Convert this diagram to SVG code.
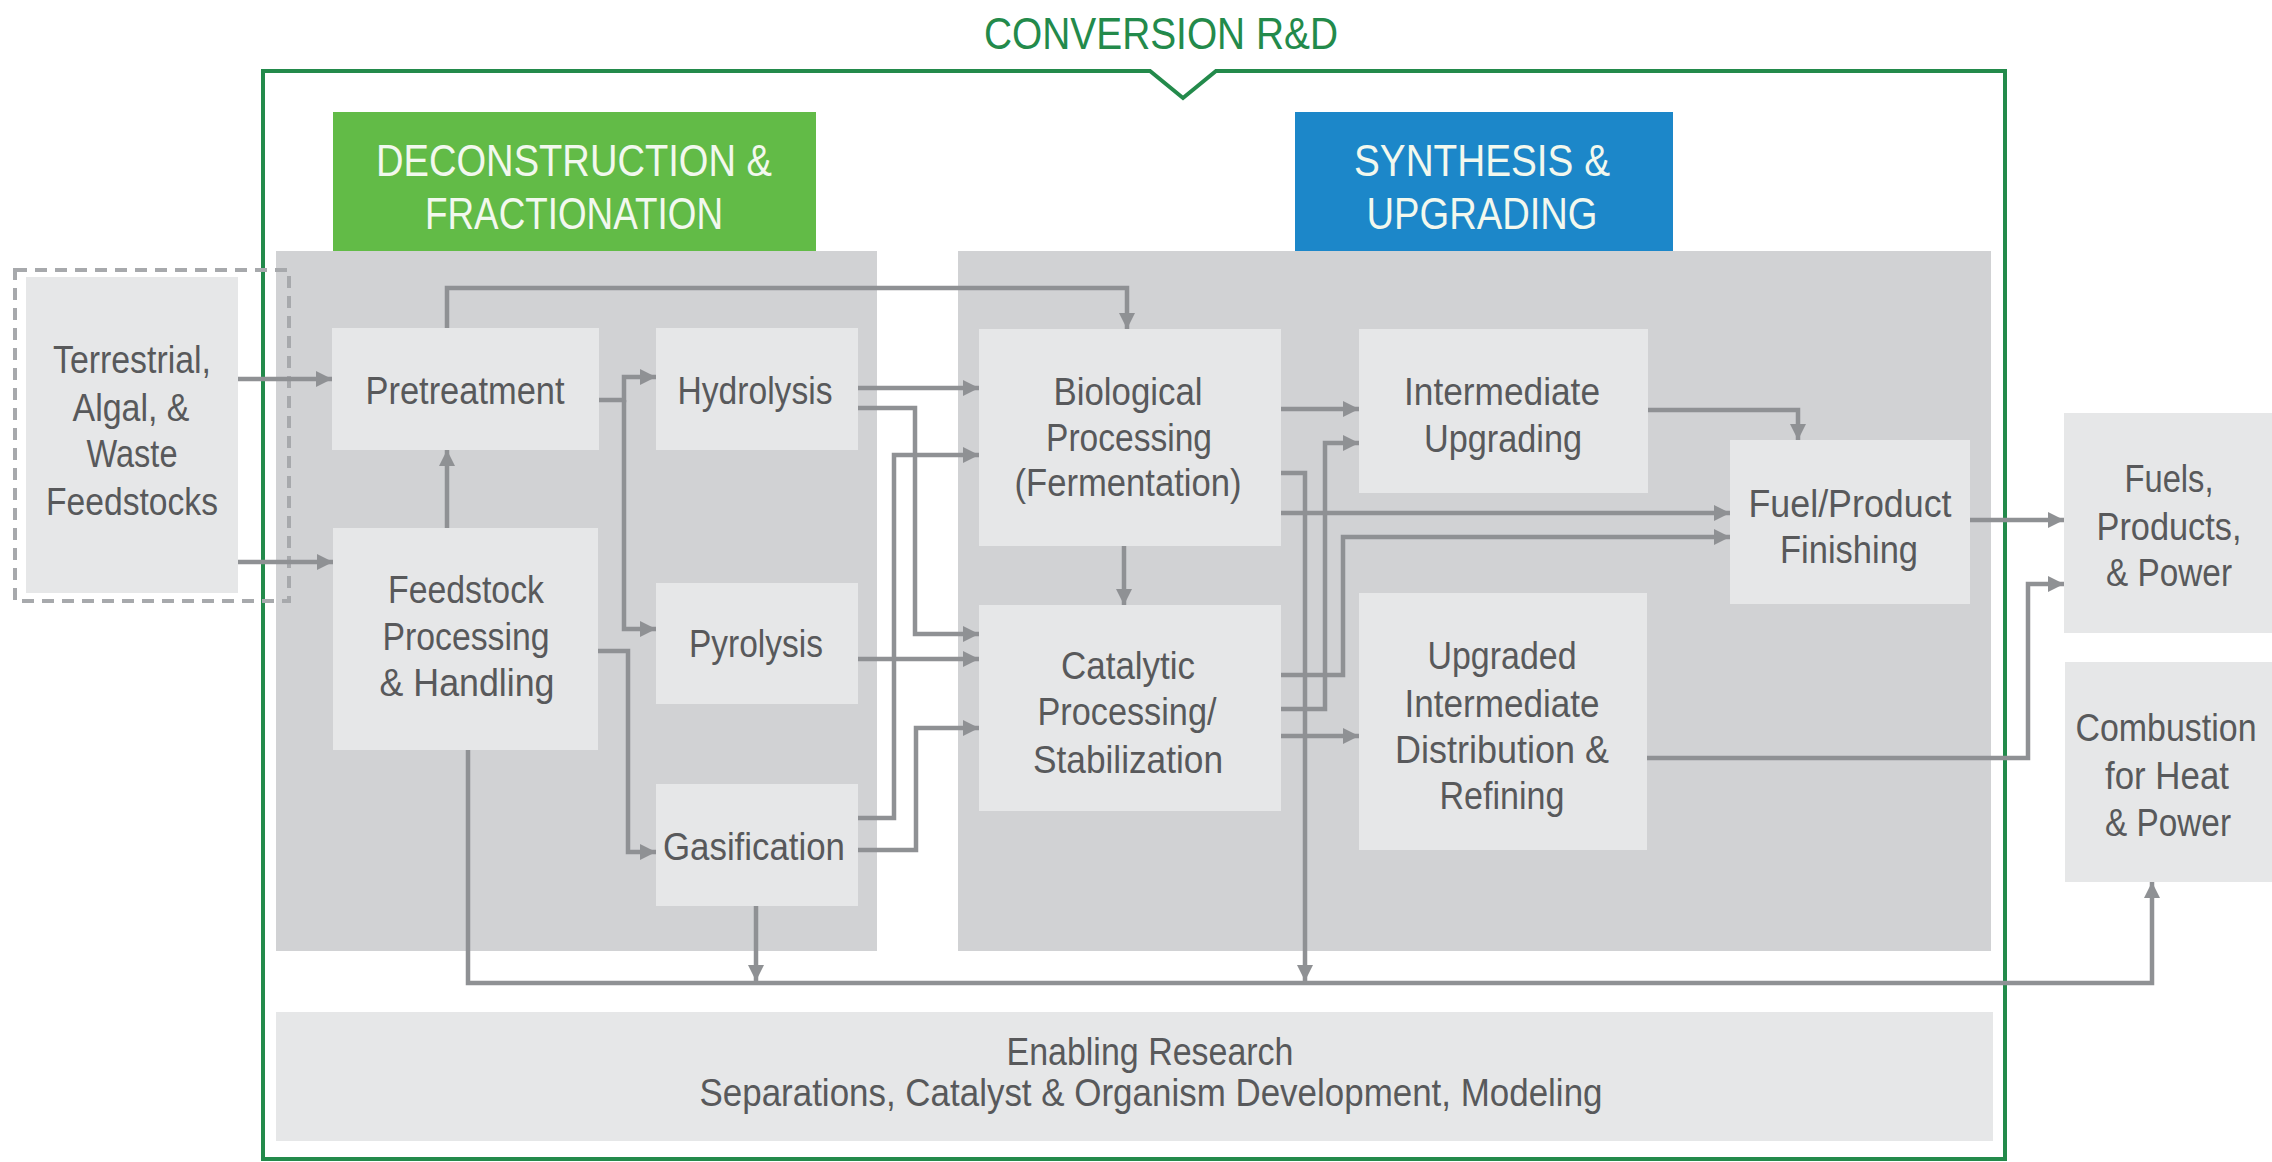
<svg xmlns="http://www.w3.org/2000/svg" width="2272" height="1162" viewBox="0 0 2272 1162">
<style>
.panel{fill:#D1D2D4}
.box{fill:#E6E7E8}
.t{font-family:"Liberation Sans Narrow","Liberation Sans",Arial,sans-serif;font-size:38px;fill:#58595B;text-anchor:middle}
.h{font-family:"Liberation Sans Narrow","Liberation Sans",Arial,sans-serif;font-size:45px;fill:#F2F8EE;text-anchor:middle}
.title{font-family:"Liberation Sans Narrow","Liberation Sans",Arial,sans-serif;font-size:45px;fill:#238A4B;text-anchor:middle}
.c{fill:none;stroke:#8F9194;stroke-width:4.5;stroke-linejoin:miter}
.a{marker-end:url(#arr)}
</style>
<defs>
<marker id="arr" markerUnits="userSpaceOnUse" markerWidth="16" markerHeight="16" refX="16" refY="8" orient="auto">
<path d="M0,0 L16,8 L0,16 z" fill="#8F9194"/>
</marker>
</defs>
<rect x="0" y="0" width="2272" height="1162" fill="#FFFFFF"/>

<g id="frame">
<path d="M263,1159 L263,71 L1150,71 L1183,98 L1216,71 L2005,71 L2005,1159 Z" fill="none" stroke="#238A4B" stroke-width="4"/>
<text class="title" x="1161" y="49" textLength="354" lengthAdjust="spacingAndGlyphs">CONVERSION R&amp;D</text>
</g>

<g id="header-deconstruction">
<rect x="333" y="112" width="483" height="139" fill="#62BB47"/>
<text class="h" x="574" y="176" textLength="396" lengthAdjust="spacingAndGlyphs">DECONSTRUCTION &amp;</text>
<text class="h" x="574" y="229" textLength="298" lengthAdjust="spacingAndGlyphs">FRACTIONATION</text>
</g>
<g id="header-synthesis">
<rect x="1295" y="112" width="378" height="139" fill="#1C87C9"/>
<text class="h" x="1482" y="176" textLength="256" lengthAdjust="spacingAndGlyphs">SYNTHESIS &amp;</text>
<text class="h" x="1482" y="229" textLength="231" lengthAdjust="spacingAndGlyphs">UPGRADING</text>
</g>

<g id="panels">
<rect class="panel" x="276" y="251" width="601" height="700"/>
<rect class="panel" x="958" y="251" width="1033" height="700"/>
</g>

<g id="feedstocks">
<rect class="box" x="26" y="277" width="212" height="316"/>
<text class="t" x="132" y="373" textLength="158" lengthAdjust="spacingAndGlyphs">Terrestrial,</text>
<text class="t" x="131" y="421" textLength="117" lengthAdjust="spacingAndGlyphs">Algal, &amp;</text>
<text class="t" x="132" y="467" textLength="91" lengthAdjust="spacingAndGlyphs">Waste</text>
<text class="t" x="132" y="515" textLength="172" lengthAdjust="spacingAndGlyphs">Feedstocks</text>
<rect x="15" y="270" width="274" height="331" fill="none" stroke="#A7A9AC" stroke-width="4" stroke-dasharray="12 8"/>
</g>

<g id="pretreatment">
<rect class="box" x="332" y="328" width="267" height="122"/>
<text class="t" x="465" y="404" textLength="199" lengthAdjust="spacingAndGlyphs">Pretreatment</text>
</g>
<g id="feedstock-processing">
<rect class="box" x="333" y="528" width="265" height="222"/>
<text class="t" x="466" y="603" textLength="156" lengthAdjust="spacingAndGlyphs">Feedstock</text>
<text class="t" x="466" y="650" textLength="167" lengthAdjust="spacingAndGlyphs">Processing</text>
<text class="t" x="467" y="696" textLength="175" lengthAdjust="spacingAndGlyphs">&amp; Handling</text>
</g>
<g id="hydrolysis">
<rect class="box" x="656" y="328" width="202" height="122"/>
<text class="t" x="755" y="404" textLength="155" lengthAdjust="spacingAndGlyphs">Hydrolysis</text>
</g>
<g id="pyrolysis">
<rect class="box" x="656" y="583" width="202" height="121"/>
<text class="t" x="756" y="657" textLength="134" lengthAdjust="spacingAndGlyphs">Pyrolysis</text>
</g>
<g id="gasification">
<rect class="box" x="656" y="784" width="202" height="122"/>
<text class="t" x="754" y="860" textLength="182" lengthAdjust="spacingAndGlyphs">Gasification</text>
</g>
<g id="biological">
<rect class="box" x="979" y="329" width="302" height="217"/>
<text class="t" x="1128" y="405" textLength="149" lengthAdjust="spacingAndGlyphs">Biological</text>
<text class="t" x="1129" y="451" textLength="166" lengthAdjust="spacingAndGlyphs">Processing</text>
<text class="t" x="1128" y="496" textLength="227" lengthAdjust="spacingAndGlyphs">(Fermentation)</text>
</g>
<g id="catalytic">
<rect class="box" x="979" y="605" width="302" height="206"/>
<text class="t" x="1128" y="679" textLength="134" lengthAdjust="spacingAndGlyphs">Catalytic</text>
<text class="t" x="1127" y="725" textLength="179" lengthAdjust="spacingAndGlyphs">Processing/</text>
<text class="t" x="1128" y="773" textLength="190" lengthAdjust="spacingAndGlyphs">Stabilization</text>
</g>
<g id="intermediate-upgrading">
<rect class="box" x="1359" y="329" width="289" height="164"/>
<text class="t" x="1502" y="405" textLength="196" lengthAdjust="spacingAndGlyphs">Intermediate</text>
<text class="t" x="1503" y="452" textLength="158" lengthAdjust="spacingAndGlyphs">Upgrading</text>
</g>
<g id="upgraded-intermediate">
<rect class="box" x="1359" y="593" width="288" height="257"/>
<text class="t" x="1502" y="669" textLength="149" lengthAdjust="spacingAndGlyphs">Upgraded</text>
<text class="t" x="1502" y="717" textLength="195" lengthAdjust="spacingAndGlyphs">Intermediate</text>
<text class="t" x="1502" y="763" textLength="214" lengthAdjust="spacingAndGlyphs">Distribution &amp;</text>
<text class="t" x="1502" y="809" textLength="125" lengthAdjust="spacingAndGlyphs">Refining</text>
</g>
<g id="fuel-finishing">
<rect class="box" x="1730" y="440" width="240" height="164"/>
<text class="t" x="1850" y="517" textLength="203" lengthAdjust="spacingAndGlyphs">Fuel/Product</text>
<text class="t" x="1849" y="563" textLength="138" lengthAdjust="spacingAndGlyphs">Finishing</text>
</g>
<g id="fuels-products-power">
<rect class="box" x="2064" y="413" width="208" height="220"/>
<text class="t" x="2169" y="492" textLength="89" lengthAdjust="spacingAndGlyphs">Fuels,</text>
<text class="t" x="2169" y="540" textLength="145" lengthAdjust="spacingAndGlyphs">Products,</text>
<text class="t" x="2169" y="586" textLength="126" lengthAdjust="spacingAndGlyphs">&amp; Power</text>
</g>
<g id="combustion">
<rect class="box" x="2065" y="662" width="207" height="220"/>
<text class="t" x="2166" y="741" textLength="181" lengthAdjust="spacingAndGlyphs">Combustion</text>
<text class="t" x="2167" y="789" textLength="124" lengthAdjust="spacingAndGlyphs">for Heat</text>
<text class="t" x="2168" y="836" textLength="126" lengthAdjust="spacingAndGlyphs">&amp; Power</text>
</g>
<g id="enabling-research">
<rect class="box" x="276" y="1012" width="1717" height="129"/>
<text class="t" x="1150" y="1065" textLength="287" lengthAdjust="spacingAndGlyphs">Enabling Research</text>
<text class="t" x="1151" y="1106" textLength="903" lengthAdjust="spacingAndGlyphs">Separations, Catalyst &amp; Organism Development, Modeling</text>
</g>

<g id="connectors">
<path class="c a" d="M238,379 L332,379"/>
<path class="c a" d="M238,562 L333,562"/>
<path class="c a" d="M447,528 L447,450"/>
<path class="c a" d="M447,328 L447,288 L1127,288 L1127,329"/>
<path class="c a" d="M599,400 L624,400 L624,377 L656,377"/>
<path class="c a" d="M624,400 L624,629 L656,629"/>
<path class="c a" d="M598,651 L628,651 L628,852 L656,852"/>
<path class="c a" d="M858,388 L979,388"/>
<path class="c a" d="M858,408 L915,408 L915,634 L979,634"/>
<path class="c a" d="M858,659 L979,659"/>
<path class="c a" d="M858,818 L894,818 L894,455 L979,455"/>
<path class="c a" d="M858,850 L916,850 L916,728 L979,728"/>
<path class="c a" d="M756,906 L756,981"/>
<path class="c a" d="M1124,546 L1124,605"/>
<path class="c a" d="M1281,409 L1359,409"/>
<path class="c a" d="M1281,473 L1305,473 L1305,981"/>
<path class="c a" d="M1281,513 L1730,513"/>
<path class="c a" d="M1281,675 L1343,675 L1343,537 L1730,537"/>
<path class="c a" d="M1281,709 L1325,709 L1325,443 L1359,443"/>
<path class="c a" d="M1281,736 L1359,736"/>
<path class="c a" d="M1648,410 L1798,410 L1798,440"/>
<path class="c a" d="M1970,520 L2064,520"/>
<path class="c a" d="M1647,758 L2028,758 L2028,584 L2064,584"/>
<path class="c a" d="M468,750 L468,983 L2152,983 L2152,882"/>
</g>
</svg>
